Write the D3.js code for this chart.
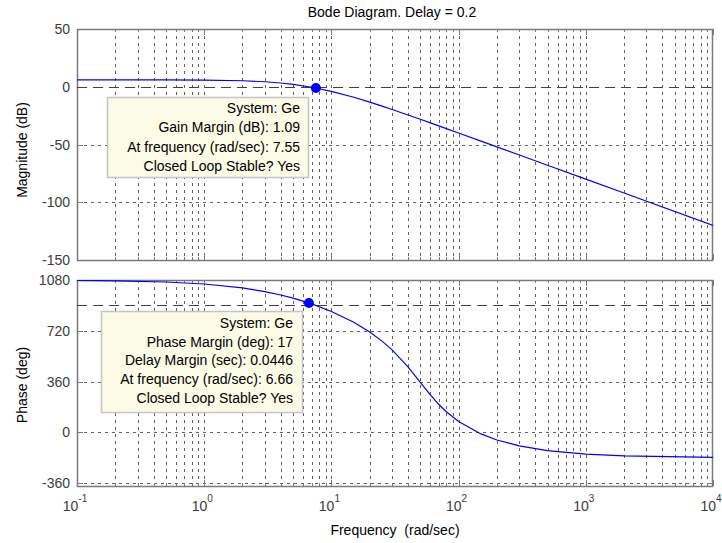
<!DOCTYPE html>
<html>
<head>
<meta charset="utf-8">
<script src="https://cdn.jsdelivr.net/npm/d3@7"></script>
<style>
  html, body { margin: 0; padding: 0; background: #ffffff; }
  svg { display: block; }
  text { font-family: "Liberation Sans", Arial, sans-serif; white-space: pre; }
</style>
</head>
<body>
<svg id="chart" width="722" height="543"></svg>
<script>
// ---------------- data ----------------
const titleText = "Bode Diagram. Delay = 0.2";
const xLabel = "Frequency  (rad/sec)";
const magLabel = "Magnitude (dB)";
const phaseLabel = "Phase (deg)";

const freq = [0.1, 0.2, 0.5, 1, 2, 3, 4, 5, 7, 10, 15, 20, 25, 30, 40, 50, 60, 70, 80, 100, 150, 200, 300, 500, 1000, 2000, 10000];
const magDb = [6.02, 6.01, 5.97, 5.81, 5.21, 4.32, 3.23, 2.04, -0.42, -3.98, -9.10, -13.27, -16.73, -19.66, -24.41, -28.17, -31.27, -33.91, -36.21, -40.05, -47.07, -52.05, -59.09, -67.96, -80.00, -92.04, -120.00];
const phaseDeg = [1077.1, 1074.3, 1065.7, 1051.5, 1024.0, 998.0, 973.7, 951.1, 910.3, 857.0, 780.2, 711.4, 646.6, 584.2, 464.2, 354.6, 264.7, 196.7, 145.9, 76.7, -11.7, -54.5, -96.6, -130.1, -155.0, -167.5, -177.5];

const xTickExps = [-1, 0, 1, 2, 3, 4];
const magTicks = [50, 0, -50, -100, -150];
const phaseTicks = [1080, 720, 360, 0, -360];

// margins
const gainMargin = { freq: 7.55, value: -1.09, lineValue: 0 };
const phaseMargin = { freq: 6.66, value: 917, lineValue: 900 };

const gainTip = ["System: Ge", "Gain Margin (dB): 1.09", "At frequency (rad/sec): 7.55", "Closed Loop Stable? Yes"];
const phaseTip = ["System: Ge", "Phase Margin (deg): 17", "Delay Margin (sec): 0.0446", "At frequency (rad/sec): 6.66", "Closed Loop Stable? Yes"];

// ---------------- layout ----------------
const svg = d3.select("#chart");
const L = 77, R = 713;
const topPlot = { y0: 29, y1: 260 };
const botPlot = { y0: 280, y1: 486 };

const x = d3.scaleLog().domain([0.1, 10000]).range([L, R]);
const yMag = d3.scaleLinear().domain([-150, 50]).range([topPlot.y1, topPlot.y0]);
const yPh = d3.scaleLinear().domain([-381, 1080]).range([botPlot.y1, botPlot.y0]);

const gridColor = "#606060";
const boxColor = "#7a7a7a";
const tickTextColor = "#3c3c3c";
const FS = 14;

const gridFreqs = [];
for (let e = -1; e < 4; e++) {
  for (let m = 1; m <= 9; m++) {
    const v = m * Math.pow(10, e);
    if (v > 0.1 && v < 10000) gridFreqs.push(v);
  }
}

function drawPanel(yScale, y0, y1, ticks, id, skipGrid) {
  const g = svg.append("g");
  svg.append("clipPath").attr("id", id).append("rect")
    .attr("x", L).attr("y", y0).attr("width", R - L).attr("height", y1 - y0);

  g.selectAll("line.vg").data(gridFreqs).enter().append("line")
    .attr("x1", d => Math.round(x(d)) + 0.5).attr("x2", d => Math.round(x(d)) + 0.5)
    .attr("y1", y0).attr("y2", y1)
    .attr("stroke", gridColor).attr("stroke-width", 1)
    .attr("stroke-dasharray", "3,4");
  g.selectAll("line.hg").data(ticks.filter(t => !skipGrid.includes(t))).enter().append("line")
    .attr("x1", L).attr("x2", R)
    .attr("y1", d => Math.round(yScale(d)) + 0.5).attr("y2", d => Math.round(yScale(d)) + 0.5)
    .attr("stroke", gridColor).attr("stroke-width", 1)
    .attr("stroke-dasharray", "3,4");

  const dec = xTickExps.map(e => Math.pow(10, e));
  gridFreqs.concat(dec).forEach(v => {
    const isMajor = Math.abs(Math.log10(v) - Math.round(Math.log10(v))) < 1e-9;
    const len = isMajor ? 6 : 3;
    const xx = Math.round(x(v)) + 0.5;
    g.append("line").attr("x1", xx).attr("x2", xx).attr("y1", y1).attr("y2", y1 - len)
      .attr("stroke", boxColor);
    g.append("line").attr("x1", xx).attr("x2", xx).attr("y1", y0).attr("y2", y0 + len)
      .attr("stroke", boxColor);
  });
  ticks.forEach(t => {
    const yy = Math.round(yScale(t)) + 0.5;
    g.append("line").attr("x1", L).attr("x2", L + 6).attr("y1", yy).attr("y2", yy).attr("stroke", boxColor);
    g.append("line").attr("x1", R).attr("x2", R - 6).attr("y1", yy).attr("y2", yy).attr("stroke", boxColor);
  });

  g.selectAll("text.yt").data(ticks).enter().append("text")
    .attr("x", 70).attr("y", d => yScale(d) + 5)
    .attr("text-anchor", "end")
    .attr("font-size", FS)
    .attr("fill", tickTextColor)
    .text(d => d);

  g.append("rect").attr("x", L + 0.5).attr("y", y0 + 0.5)
    .attr("width", R - L - 1).attr("height", y1 - y0)
    .attr("fill", "none").attr("stroke", boxColor).attr("stroke-width", 1.5);
  return g;
}

const gTop = drawPanel(yMag, topPlot.y0, topPlot.y1, magTicks, "clipTop", [0]);
const gBot = drawPanel(yPh, botPlot.y0, botPlot.y1, phaseTicks, "clipBot", []);

gTop.append("line").attr("x1", L).attr("x2", R)
  .attr("y1", Math.round(yMag(gainMargin.lineValue)) + 0.5).attr("y2", Math.round(yMag(gainMargin.lineValue)) + 0.5)
  .attr("stroke", "#404040").attr("stroke-dasharray", "10,6");
gBot.append("line").attr("x1", L).attr("x2", R)
  .attr("y1", Math.round(yPh(phaseMargin.lineValue)) + 0.5).attr("y2", Math.round(yPh(phaseMargin.lineValue)) + 0.5)
  .attr("stroke", "#404040").attr("stroke-dasharray", "10,6");

const magLine = d3.line().x((d, i) => x(freq[i])).y(d => yMag(d));
const phLine = d3.line().x((d, i) => x(freq[i])).y(d => yPh(d));
svg.append("path").attr("d", magLine(magDb)).attr("clip-path", "url(#clipTop)")
  .attr("fill", "none").attr("stroke", "#0000ff").attr("stroke-width", 1.2);
svg.append("path").attr("d", phLine(phaseDeg)).attr("clip-path", "url(#clipBot)")
  .attr("fill", "none").attr("stroke", "#0000ff").attr("stroke-width", 1.2);

svg.append("circle").attr("cx", x(gainMargin.freq)).attr("cy", yMag(gainMargin.value))
  .attr("r", 5).attr("fill", "#0000ff");
svg.append("circle").attr("cx", x(phaseMargin.freq)).attr("cy", yPh(phaseMargin.value))
  .attr("r", 5).attr("fill", "#0000ff");

function dataTip(lines, bx, by, bw, bh, textRight, firstBaseline, step) {
  const g = svg.append("g");
  g.append("rect").attr("x", bx + 0.5).attr("y", by + 0.5).attr("width", bw).attr("height", bh)
    .attr("fill", "#fbfbe6").attr("stroke", "#c4c4c4").attr("stroke-width", 1.5);
  g.selectAll("text").data(lines).enter().append("text")
    .attr("x", textRight).attr("y", (d, i) => firstBaseline + i * step)
    .attr("text-anchor", "end").attr("font-size", FS).attr("fill", "#000")
    .text(d => d);
}
dataTip(gainTip, 107, 97, 201, 80, 300, 113, 19.3);
dataTip(phaseTip, 101, 311, 201, 101, 293, 328, 18.7);

xTickExps.forEach(e => {
  const xx = x(Math.pow(10, e));
  const t = svg.append("text").attr("x", xx - 2).attr("y", 511)
    .attr("text-anchor", "middle").attr("font-size", FS).attr("fill", tickTextColor);
  t.append("tspan").text("10");
  t.append("tspan").attr("dy", -9).attr("font-size", 10).text(e);
});

svg.append("text").attr("x", 392).attr("y", 17).attr("text-anchor", "middle")
  .attr("font-size", FS).attr("fill", "#000").text(titleText);
svg.append("text").attr("x", 395).attr("y", 535).attr("text-anchor", "middle")
  .attr("font-size", FS).attr("fill", "#000").text(xLabel);
svg.append("text").attr("transform", "translate(27,150) rotate(-90)").attr("text-anchor", "middle")
  .attr("font-size", FS).attr("fill", "#000").text(magLabel);
svg.append("text").attr("transform", "translate(27,385) rotate(-90)").attr("text-anchor", "middle")
  .attr("font-size", FS).attr("fill", "#000").text(phaseLabel);
</script>
</body>
</html>
